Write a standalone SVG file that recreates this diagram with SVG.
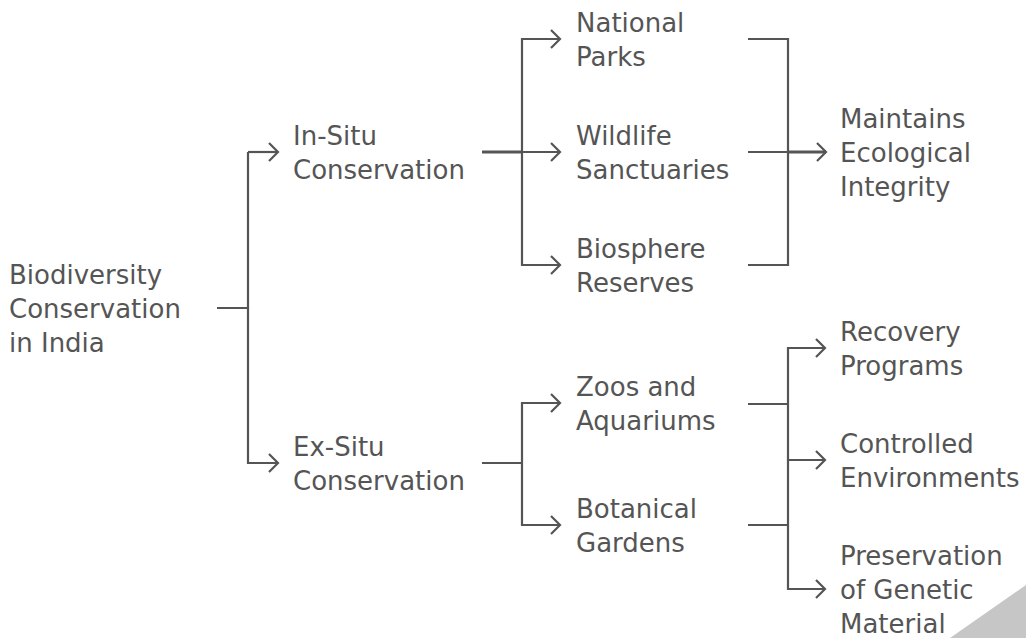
<svg xmlns="http://www.w3.org/2000/svg" width="1026" height="638" viewBox="0 0 1026 638">
<defs>
<style>
.t{font-family:"DejaVu Sans","Liberation Sans",sans-serif;font-size:26px;fill:#555;}
.c{fill:none;stroke:#555;stroke-width:2.2;stroke-linejoin:miter;}
.k{stroke-width:3.2;}
</style>
<marker id="ah" viewBox="-12 -11 14 22" refX="0" refY="0" markerWidth="14" markerHeight="22" markerUnits="userSpaceOnUse" orient="auto">
<path d="M-9,-9 L0,0 L-9,9" fill="none" stroke="#555" stroke-width="2.2"/>
</marker>
</defs>
<rect width="1026" height="638" fill="#ffffff"/>
<polygon points="950,638 1026,585 1026,638" fill="#c6c6c6"/>
<g id="connectors">
<path class="c" d="M217,308 H248 V152"/>
<path class="c" d="M248,152 H278" marker-end="url(#ah)"/>
<path class="c" d="M248,308 V463 H278" marker-end="url(#ah)"/>
<path class="c k" d="M482,152 H522"/>
<path class="c" d="M522,152 V39 H560" marker-end="url(#ah)"/>
<path class="c" d="M522,152 H560" marker-end="url(#ah)"/>
<path class="c" d="M522,152 V265 H560" marker-end="url(#ah)"/>
<path class="c" d="M748,39 H788 V265 H748"/>
<path class="c" d="M748,152 H788"/>
<path class="c k" d="M788,152 H826" marker-end="url(#ah)"/>
<path class="c" d="M482,463 H522"/>
<path class="c" d="M522,463 V403 H560" marker-end="url(#ah)"/>
<path class="c" d="M522,463 V525 H560" marker-end="url(#ah)"/>
<path class="c" d="M748,404 H788"/>
<path class="c" d="M748,525 H788"/>
<path class="c" d="M788,404 V348 H825" marker-end="url(#ah)"/>
<path class="c" d="M788,404 V460 H825" marker-end="url(#ah)"/>
<path class="c" d="M788,460 V589 H825" marker-end="url(#ah)"/>
</g>
<g id="root"><text class="t" x="9"><tspan x="9" y="284">Biodiversity</tspan><tspan x="9" y="318">Conservation</tspan><tspan x="9" y="352">in India</tspan></text></g>
<g id="insitu"><text class="t"><tspan x="293" y="145">In-Situ</tspan><tspan x="293" y="179">Conservation</tspan></text></g>
<g id="exsitu"><text class="t"><tspan x="293" y="456">Ex-Situ</tspan><tspan x="293" y="490">Conservation</tspan></text></g>
<g id="national-parks"><text class="t"><tspan x="576" y="32">National</tspan><tspan x="576" y="66">Parks</tspan></text></g>
<g id="wildlife-sanctuaries"><text class="t"><tspan x="576" y="145">Wildlife</tspan><tspan x="576" y="179">Sanctuaries</tspan></text></g>
<g id="biosphere-reserves"><text class="t"><tspan x="576" y="258">Biosphere</tspan><tspan x="576" y="292">Reserves</tspan></text></g>
<g id="zoos-aquariums"><text class="t"><tspan x="576" y="396">Zoos and</tspan><tspan x="576" y="430">Aquariums</tspan></text></g>
<g id="botanical-gardens"><text class="t"><tspan x="576" y="518">Botanical</tspan><tspan x="576" y="552">Gardens</tspan></text></g>
<g id="ecological-integrity"><text class="t"><tspan x="840" y="128">Maintains</tspan><tspan x="840" y="162">Ecological</tspan><tspan x="840" y="196">Integrity</tspan></text></g>
<g id="recovery-programs"><text class="t"><tspan x="840" y="341">Recovery</tspan><tspan x="840" y="375">Programs</tspan></text></g>
<g id="controlled-environments"><text class="t"><tspan x="840" y="453">Controlled</tspan><tspan x="840" y="487">Environments</tspan></text></g>
<g id="genetic-material"><text class="t"><tspan x="840" y="565">Preservation</tspan><tspan x="840" y="599">of Genetic</tspan><tspan x="840" y="633">Material</tspan></text></g>
</svg>
